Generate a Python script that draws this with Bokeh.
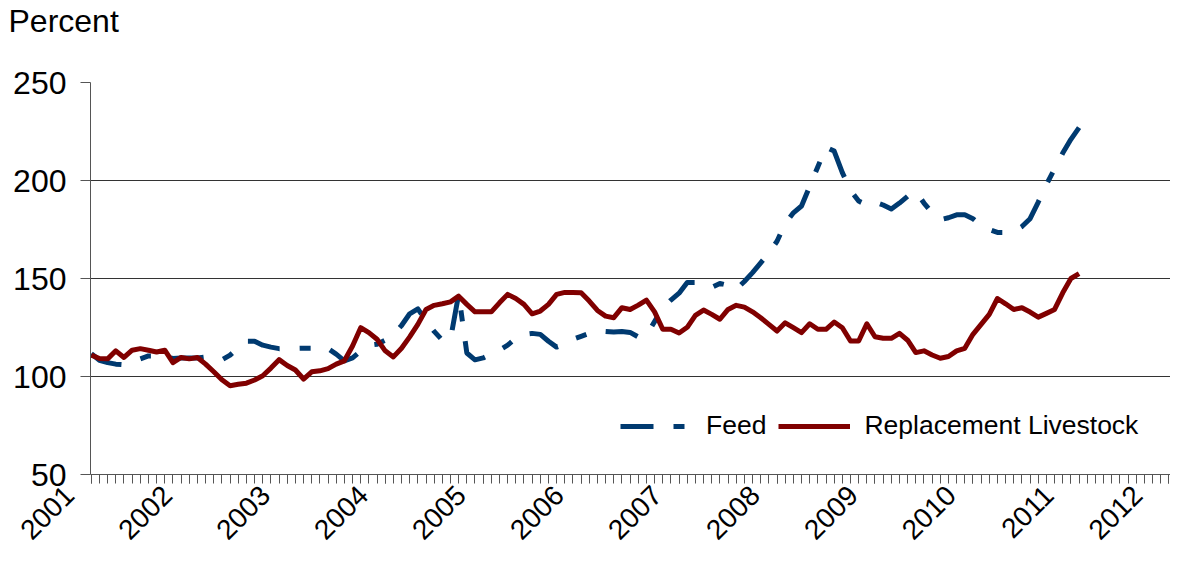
import math
from bokeh.plotting import figure
from bokeh.models import Range1d, FixedTicker, Legend, LegendItem
from bokeh.embed import file_html
from bokeh.resources import INLINE

# Monthly index: 0 = Jan 2001
years = [str(y) for y in range(2001, 2013)]

feed = [
    111.7, 108.3, 107.1, 106.3, 106.0, 107.5, 109.0, 110.5, 110.5, 110.0,
    109.2, 109.5, 109.5, 109.5, 110.0, 109.5, 108.5, 110.9, 114.7, 118.0,
    118.0, 116.0, 115.0, 114.2, 114.2, 114.3, 114.4, 114.4, 115.1, 114.2,
    111.4, 108.0, 109.5, 113.0, 116.0, 116.5, 118.5, 121.5, 126.0, 132.0,
    134.5, 128.5, 123.0, 118.5, 119.0, 142.0, 112.0, 108.5, 109.5, 111.5,
    113.5, 116.0, 119.5, 121.5, 122.0, 121.5, 118.0, 115.0, 116.5, 119.0,
    120.5, 122.0, 123.5, 123.0, 122.7, 123.0, 122.5, 120.2, 121.0, 128.0,
    135.0, 139.0, 142.5, 148.0, 148.0, 147.3, 145.5, 147.5, 146.5, 144.5,
    148.5, 153.0, 158.0, 163.0, 169.0, 178.0, 183.5, 187.0, 197.0, 207.0,
    217.0, 215.0, 204.0, 195.0, 189.5, 187.5, 189.0, 187.5, 185.5, 188.5,
    192.0, 194.5, 188.5, 183.5, 180.0, 181.0, 182.5, 182.5, 180.5, 177.0,
    175.0, 173.5, 173.5, 174.0, 176.5, 180.5, 189.0, 198.0, 206.0, 214.0,
    221.0, 227.0,
]

livestock = [
    110.9, 109.2, 109.0, 113.1, 109.7, 113.4, 114.2, 113.4, 112.5, 113.4,
    107.1, 109.7, 109.0, 109.7, 106.3, 102.4, 98.3, 95.3, 96.0, 96.6,
    98.2, 100.4, 104.3, 108.6, 105.6, 103.3, 98.7, 102.4, 102.9, 104.0,
    106.3, 108.0, 115.6, 124.9, 122.4, 119.0, 113.1, 110.0, 114.4, 120.2,
    126.6, 134.2, 136.3, 137.1, 138.1, 141.0, 136.8, 133.0, 133.0, 133.0,
    137.6, 141.9, 139.8, 136.8, 132.0, 133.4, 136.8, 141.9, 142.9, 142.9,
    142.7, 138.5, 133.7, 130.8, 130.0, 135.1, 134.2, 136.4, 139.0, 133.0,
    124.1, 124.1, 122.2, 125.1, 131.2, 133.9, 131.7, 129.2, 134.2, 136.3,
    135.4, 133.0, 130.0, 126.6, 123.2, 127.4, 124.9, 122.4, 126.9, 124.1,
    124.1, 127.8, 124.9, 118.1, 118.1, 126.9, 120.3, 119.5, 119.5, 122.0,
    118.5, 112.2, 113.1, 111.0, 109.3, 110.2, 113.1, 114.4, 121.5, 126.6,
    131.7, 139.8, 137.1, 134.2, 135.1, 132.9, 130.3, 132.2, 134.2, 142.7,
    150.0, 152.5,
]

months = list(range(len(feed)))
y_ticks = [50, 100, 150, 200, 250]
year_ticks = [12 * i for i in range(len(years))]

FONT = "Liberation Sans"
PAD = "\u00a0" * 4  # rotated labels end a little before their tick

p = figure(width=1170, height=559, output_backend="svg", toolbar_location=None,
           x_range=Range1d(-0.1, 132.2), y_range=Range1d(50, 250),
           min_border_left=90, min_border_right=0, min_border_top=81,
           min_border_bottom=84)
p.outline_line_color = None
p.background_fill_color = "white"

# "Percent" unit caption top-left (second empty line lifts it up)
p.title.text = "Percent\n "
p.title.align = "left"
p.title.offset = -82
p.title.standoff = 0
p.title.text_font = FONT
p.title.text_font_size = "32px"
p.title.text_font_style = "normal"
p.title.text_color = "black"
p.title.text_line_height = 1.22

r_feed = p.line(months, feed, line_color="#003a70", line_width=5,
                line_dash="33 20 11 20", line_join="round")
r_live = p.line(months, livestock, line_color="#800000", line_width=5,
                line_join="round")

# y axis
p.yaxis.ticker = FixedTicker(ticks=y_ticks)
p.yaxis.major_label_text_font = FONT
p.yaxis.major_label_text_font_size = "32px"
p.yaxis.major_label_text_color = "black"
p.yaxis.major_tick_out = 10
p.yaxis.major_tick_in = 0
p.yaxis.minor_tick_out = 0
p.yaxis.minor_tick_in = 0
p.yaxis.axis_line_color = "#555555"
p.yaxis.major_tick_line_color = "#555555"
p.yaxis.major_label_standoff = 14

# x axis: monthly tick marks, rotated year labels
p.xaxis.ticker = FixedTicker(ticks=year_ticks, minor_ticks=list(range(0, 133)))
p.xaxis.major_label_overrides = {t: yr + PAD for t, yr in zip(year_ticks, years)}
p.xaxis.major_label_orientation = math.pi / 4
p.xaxis.major_label_text_font = FONT
p.xaxis.major_label_text_font_size = "28px"
p.xaxis.major_label_text_color = "black"
p.xaxis.major_tick_out = 9
p.xaxis.major_tick_in = 0
p.xaxis.minor_tick_out = 9
p.xaxis.minor_tick_in = 0
p.xaxis.axis_line_color = "#555555"
p.xaxis.major_tick_line_color = "#555555"
p.xaxis.minor_tick_line_color = "#555555"
p.xaxis.major_label_standoff = -15

p.xgrid.grid_line_color = None
p.ygrid.ticker = FixedTicker(ticks=y_ticks)
p.ygrid.grid_line_color = "#333333"
p.ygrid.grid_line_width = 1

legend = Legend(items=[LegendItem(label="Feed", renderers=[r_feed]),
                       LegendItem(label="Replacement Livestock", renderers=[r_live])],
                orientation="horizontal", location=(530, 33),
                border_line_color=None, background_fill_alpha=0,
                label_text_font=FONT, label_text_font_size="26.5px",
                label_text_color="black",
                glyph_width=72, glyph_height=20, label_standoff=14,
                spacing=12, padding=0, margin=0)
p.add_layout(legend)

open("out.html", "w").write(file_html(p, INLINE))
